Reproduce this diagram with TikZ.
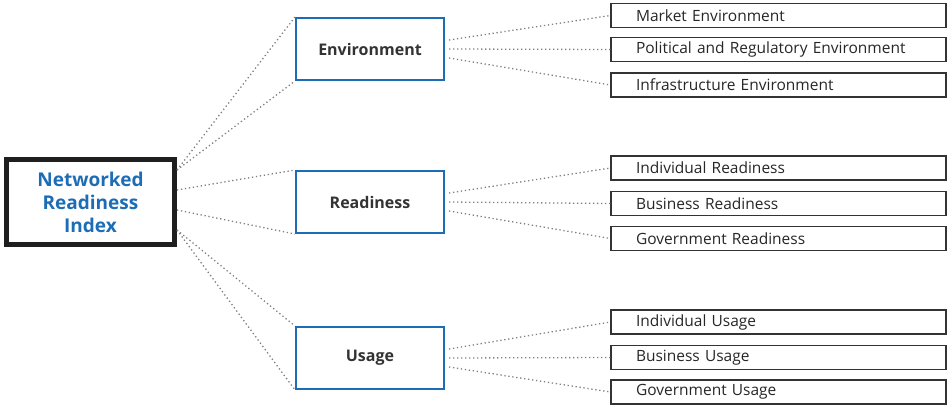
\documentclass[tikz,border=0pt]{standalone}
\usepackage{fontspec}
\setmainfont{Open Sans}
\usetikzlibrary{positioning}
\definecolor{nriblue}{HTML}{1C6DB5}
\definecolor{linegray}{HTML}{808080}

\begin{document}
\begin{tikzpicture}[x=1pt,y=-1pt]
\tikzset{
  indexbox/.style={draw=black!88, line width=5pt, minimum width=168pt, minimum height=85pt,
    align=center, text=nriblue, font=\fontsize{19}{23}\selectfont\bfseries},
  pillarbox/.style={draw=nriblue, line width=2pt, minimum width=148pt, minimum height=62pt,
    text=black!80, font=\fontsize{16}{18}\selectfont\bfseries},
  subbox/.style={draw=black!80, line width=1.1pt, text width=285pt, inner xsep=25pt, inner ysep=0pt,
    minimum height=24pt, align=left, text=black!85, font=\fontsize{15.5}{17}\selectfont},
  link/.style={linegray, line width=1.3pt, dash pattern=on 1.3pt off 2.7pt}
}
\useasboundingbox (0,0) rectangle (948,405);

\node[indexbox] (nri) at (90.5,202) {Networked\\Readiness\\Index};

\node[pillarbox] (env) at (370,49) {Environment};
\node[pillarbox] (rdy) at (370,202) {Readiness};
\node[pillarbox] (use) at (370,358) {Usage};

\node[subbox] (market) at (778.5,15.5) {Market Environment};
\node[subbox] (polit) at (778.5,49.5) {Political and Regulatory Environment};
\node[subbox] (infra) at (778.5,85) {Infrastructure Environment};
\node[subbox] (indrdy) at (778.5,168) {Individual Readiness};
\node[subbox] (busrdy) at (778.5,203.5) {Business Readiness};
\node[subbox] (govrdy) at (778.5,238.5) {Government Readiness};
\node[subbox] (induse) at (778.5,322) {Individual Usage};
\node[subbox] (bususe) at (778.5,357.5) {Business Usage};
\node[subbox] (govuse) at (778.5,392) {Government Usage};

% index to pillars
\coordinate (nriE) at ([yshift=32pt]nri.east);
\coordinate (nriR1) at ([yshift=12pt]nri.east);
\coordinate (nriR2) at ([yshift=-8pt]nri.east);
\coordinate (nriU) at ([yshift=-28pt]nri.east);
\draw[link] (nriE) -- (env.north west);
\draw[link] (nriE) -- (env.south west);
\draw[link] (nriR1) -- (rdy.north west);
\draw[link] (nriR2) -- (rdy.south west);
\draw[link] (nriU) -- (use.north west);
\draw[link] (nriU) -- (use.south west);

% pillars to sub-indexes
\draw[link] ([xshift=4pt,yshift=9pt]env.east) -- (market.west);
\draw[link] ([xshift=4pt]env.east) -- (polit.west);
\draw[link] ([xshift=4pt,yshift=-9pt]env.east) -- (infra.west);
\draw[link] ([xshift=4pt,yshift=9pt]rdy.east) -- (indrdy.west);
\draw[link] ([xshift=4pt]rdy.east) -- (busrdy.west);
\draw[link] ([xshift=4pt,yshift=-9pt]rdy.east) -- (govrdy.west);
\draw[link] ([xshift=4pt,yshift=9pt]use.east) -- (induse.west);
\draw[link] ([xshift=4pt]use.east) -- (bususe.west);
\draw[link] ([xshift=4pt,yshift=-9pt]use.east) -- (govuse.west);
\end{tikzpicture}
\end{document}
